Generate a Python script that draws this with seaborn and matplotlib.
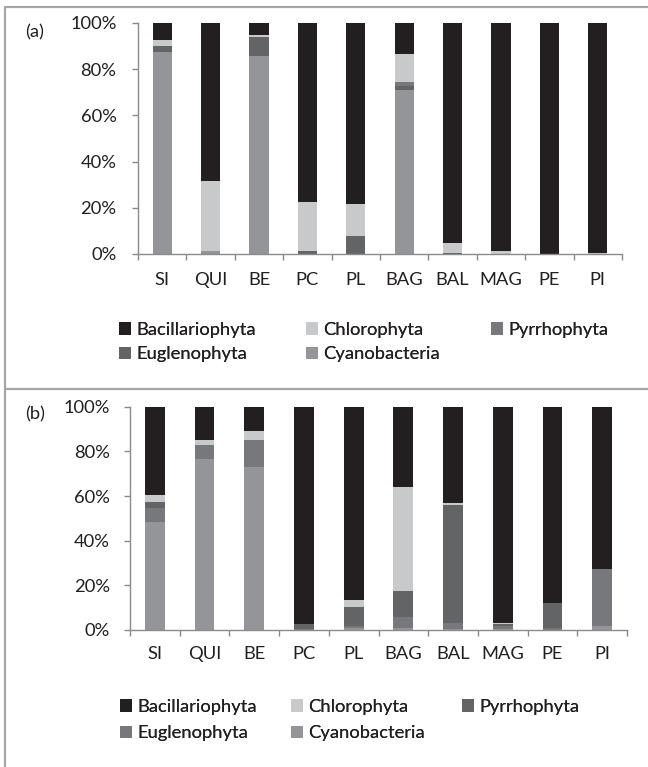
import numpy as np
import pandas as pd
import matplotlib
matplotlib.use("Agg")
import matplotlib.pyplot as plt
from matplotlib.patches import Patch
from matplotlib.lines import Line2D
import seaborn as sns

sns.set_theme(style="white")
plt.rcParams["font.family"] = ["Lato", "DejaVu Sans"]

sites = ["SI", "QUI", "BE", "PC", "PL", "BAG", "BAL", "MAG", "PE", "PI"]
groups = ["Bacillariophyta", "Chlorophyta", "Pyrrhophyta", "Euglenophyta", "Cyanobacteria"]

# relative abundance (%) per site, panel (a)
a_bacillariophyta = [7.5, 68.4, 5.0, 77.3, 78.5, 13.3, 95.2, 98.8, 99.8, 99.4]
a_chlorophyta     = [2.3, 30.2, 0.9, 21.3, 13.7, 12.1, 4.2, 1.2, 0.0, 0.6]
a_pyrrhophyta     = [0.3, 0.0, 0.3, 0.0, 0.0, 1.8, 0.0, 0.0, 0.0, 0.0]
a_euglenophyta    = [2.5, 0.0, 8.0, 1.2, 7.8, 1.8, 0.6, 0.0, 0.0, 0.0]
a_cyanobacteria   = [87.4, 1.4, 85.8, 0.2, 0.0, 71.0, 0.0, 0.0, 0.2, 0.0]

# relative abundance (%) per site, panel (b)
b_bacillariophyta = [39.5, 14.9, 10.8, 97.3, 86.5, 35.9, 43.2, 96.7, 87.7, 72.8]
b_chlorophyta     = [3.1, 2.4, 4.2, 0.0, 3.3, 46.8, 1.0, 0.5, 0.0, 0.0]
b_pyrrhophyta     = [2.7, 0.0, 0.0, 2.4, 8.2, 11.3, 52.5, 0.9, 11.2, 0.0]
b_euglenophyta    = [6.3, 6.3, 11.8, 0.3, 1.2, 4.9, 3.0, 1.4, 0.9, 25.2]
b_cyanobacteria   = [48.4, 76.4, 73.2, 0.0, 0.8, 1.1, 0.3, 0.5, 0.2, 2.0]

colors_a = {"Bacillariophyta": "#231f20", "Chlorophyta": "#c8c9ca",
            "Pyrrhophyta": "#77787b", "Euglenophyta": "#636466",
            "Cyanobacteria": "#939598"}
colors_b = {"Bacillariophyta": "#231f20", "Chlorophyta": "#c8c9ca",
            "Pyrrhophyta": "#636466", "Euglenophyta": "#77787b",
            "Cyanobacteria": "#939598"}

panel_a = pd.DataFrame({"site": sites,
                        "Bacillariophyta": a_bacillariophyta,
                        "Chlorophyta": a_chlorophyta,
                        "Pyrrhophyta": a_pyrrhophyta,
                        "Euglenophyta": a_euglenophyta,
                        "Cyanobacteria": a_cyanobacteria})
panel_b = pd.DataFrame({"site": sites,
                        "Bacillariophyta": b_bacillariophyta,
                        "Chlorophyta": b_chlorophyta,
                        "Pyrrhophyta": b_pyrrhophyta,
                        "Euglenophyta": b_euglenophyta,
                        "Cyanobacteria": b_cyanobacteria})

W, H = 648, 767
fig = plt.figure(figsize=(W / 100, H / 100), dpi=100)

SPINE = "#8a8a8a"
TEXT = "#231f20"
FS = 13.2

# legend layout: three columns, entries read row by row
LEGEND_COLUMNS = [["Bacillariophyta", "Euglenophyta"],
                  ["Chlorophyta", "Cyanobacteria"],
                  ["Pyrrhophyta"]]


def draw_panel(ax, df, colors, tag, ypad, xpad, col_x, leg_top, labelspacing):
    # stack from bottom: Cyanobacteria, Euglenophyta, Pyrrhophyta, Chlorophyta, Bacillariophyta
    stack = ["Cyanobacteria", "Euglenophyta", "Pyrrhophyta", "Chlorophyta", "Bacillariophyta"]
    total = df[stack].sum(axis=1)
    cum = df[stack].cumsum(axis=1).div(total, axis=0) * 100
    for g in reversed(stack):
        sns.barplot(x=df["site"], y=cum[g], color=colors[g], width=0.4,
                    errorbar=None, saturation=1, linewidth=0, ax=ax, order=sites)
    ax.set_xlim(-0.5, len(sites) - 0.5)
    ax.set_ylim(0, 100)
    ax.set_xlabel("")
    ax.set_ylabel("")
    ax.set_yticks(np.arange(0, 101, 20))
    ax.set_yticklabels([f"{v}%" for v in range(0, 101, 20)])
    ax.set_xticks(np.arange(len(sites)))
    ax.set_xticklabels(sites)
    ax.set_xticks(np.arange(-0.5, len(sites), 1), minor=True)
    for s in ["top", "right"]:
        ax.spines[s].set_visible(False)
    for s in ["left", "bottom"]:
        ax.spines[s].set_color(SPINE)
        ax.spines[s].set_linewidth(1.0)
    ax.tick_params(axis="x", which="major", length=0, pad=xpad, labelsize=FS, colors=TEXT)
    ax.tick_params(axis="x", which="minor", length=4.5, width=1.0, color=SPINE, direction="out", bottom=True)
    ax.tick_params(axis="y", which="major", length=4.5, width=1.0, color=SPINE, direction="out",
                   left=True, pad=ypad, labelsize=FS, labelcolor=TEXT)
    for names, x in zip(LEGEND_COLUMNS, col_x):
        handles = [Patch(facecolor=colors[g], edgecolor="none") for g in names]
        leg = fig.legend(handles, names, ncol=1, loc="upper left",
                         bbox_to_anchor=(x / W, 1 - leg_top / H),
                         bbox_transform=fig.transFigure, frameon=False, borderpad=0,
                         borderaxespad=0, handlelength=0.65, handleheight=0.65,
                         handletextpad=0.28, labelspacing=labelspacing,
                         fontsize=FS, labelcolor=TEXT)
        fig.add_artist(leg)
    fig.text(35 / W, 1 - tag[1] / H, tag[0], ha="center", va="center",
             fontsize=FS, color=TEXT)


ax_a = fig.add_axes([138 / W, 1 - 254 / H, 484 / W, 231 / H])
ax_b = fig.add_axes([130 / W, 1 - 630 / H, 497 / W, 223.3 / H])

draw_panel(ax_a, panel_a, colors_a, ("(a)", 32), ypad=11, xpad=13,
           col_x=(119, 306, 491), leg_top=322, labelspacing=0.45)
draw_panel(ax_b, panel_b, colors_b, ("(b)", 414), ypad=10, xpad=11.5,
           col_x=(120, 291, 462), leg_top=699, labelspacing=0.55)

# panel frames
FRAME = "#a6a6a6"
for seg in [((5, W), (7, 7)), ((5, 5), (7, H)), ((5, W), (388.5, 388.5))]:
    fig.add_artist(Line2D([x / W for x in seg[0]], [1 - y / H for y in seg[1]],
                          transform=fig.transFigure, color=FRAME, lw=1.6))

fig.savefig("out.png", dpi=100)
